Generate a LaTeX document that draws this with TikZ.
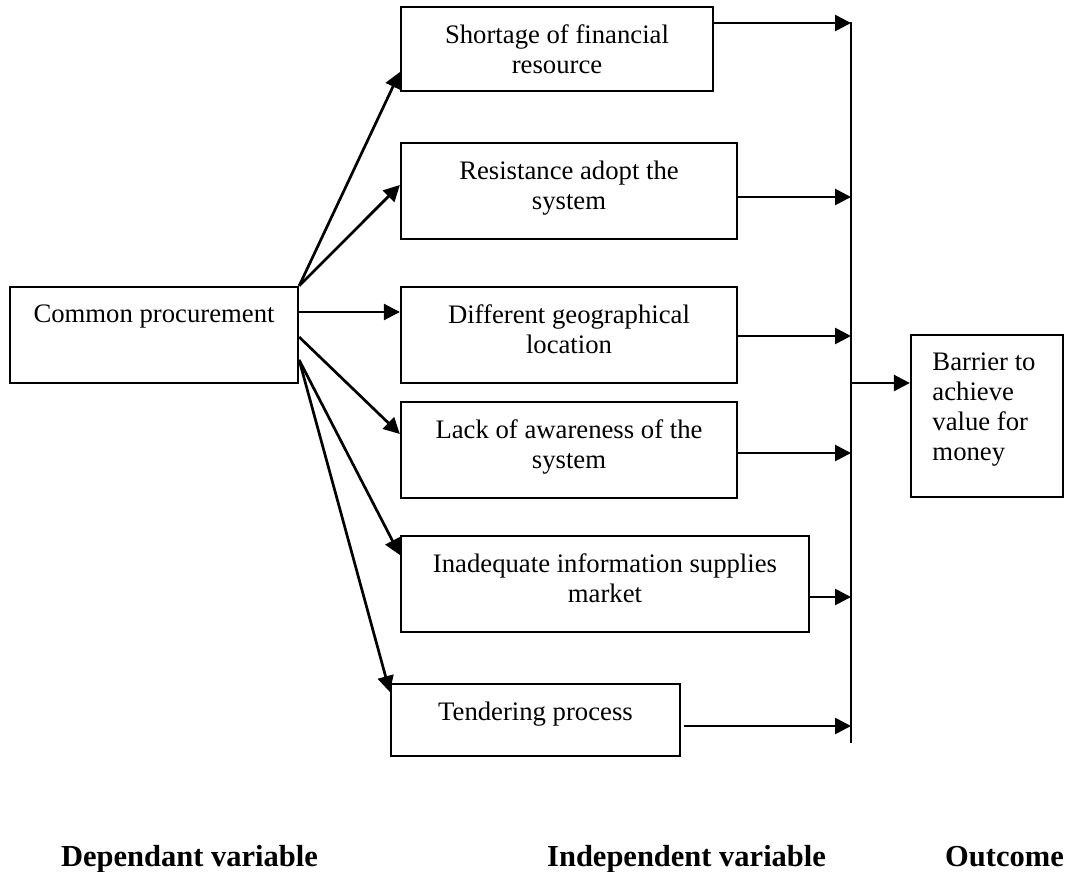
\documentclass[tikz,border=0pt]{standalone}
\usepackage{fontspec}
\setmainfont{Liberation Serif}
\usetikzlibrary{arrows.meta,calc}
\begin{document}
\begin{tikzpicture}[x=1pt,y=-1pt,
  box/.style={draw,line width=2.3pt,inner sep=0pt,align=center,
    font=\fontsize{26.7}{30}\selectfont},
  conn/.style={line width=2.7pt,-{Triangle[length=16pt,width=16pt]}},
  bus/.style={line width=2.6pt},
  heading/.style={font=\fontsize{30.5}{34}\selectfont\bfseries,inner sep=0pt}]
\useasboundingbox (0,0) rectangle (1074,872);

% boxes
\node[box,minimum width=288pt,minimum height=96pt,text depth=42pt] (cp) at (154,335) {Common procurement};
\node[box,minimum width=312pt,minimum height=84pt] (s1) at (557,49) {Shortage of financial\\resource};
\node[box,minimum width=336pt,minimum height=96pt,text depth=12pt] (s2) at (569,191) {Resistance adopt the\\system};
\node[box,minimum width=336pt,minimum height=96pt,text depth=12pt] (s3) at (569,335) {Different geographical\\location};
\node[box,minimum width=336pt,minimum height=96pt,text depth=12pt] (s4) at (569,450) {Lack of awareness of the\\system};
\node[box,minimum width=408pt,minimum height=96pt,text depth=12pt] (s5) at (605,584) {Inadequate information supplies\\market};
\node[box,minimum width=289pt,minimum height=72pt,text depth=18pt] (s6) at (535.5,720) {Tendering process};
\node[box,align=left,minimum width=152pt,minimum height=162pt,text depth=18pt] (outtext) at (987,416) {Barrier to\hspace*{6pt}\\achieve\\value for\\money};

% bus line
\coordinate (bt) at (851,22);
\coordinate (bb) at (851,743);
\draw[bus] (bt) -- (bb);

% arrows from common procurement
\draw[conn] (cp.north east) -- (s1.west |- 0,72);
\draw[conn] (cp.north east) -- (s2.west |- 0,185);
\draw[conn] (cp.east |- 0,312) -- (s3.west |- 0,312);
\draw[conn] (cp.east |- 0,337) -- (s4.west |- 0,434);
\draw[conn] (cp.east |- 0,360) -- (s5.west |- 0,555);
\draw[conn] (cp.east |- 0,360) -- (s6.west |- 0,692);

% arrows into the bus
\draw[conn] (s1.east |- 0,23) -- (bt |- 0,23);
\draw[conn] (s2.east |- 0,197) -- (bt |- 0,197);
\draw[conn] (s3.east |- 0,336) -- (bt |- 0,336);
\draw[conn] (s4.east |- 0,453) -- (bt |- 0,453);
\draw[conn] (s5.east |- 0,597) -- (bt |- 0,597);
\draw[conn,shorten <=3pt] (s6.east |- 0,726) -- (bt |- 0,726);

% bus to outcome
\draw[conn] (bt |- 0,383) -- (outtext.west |- 0,383);

% headings
\node[heading,anchor=base east] (h1) at (318,866) {Dependant variable};
\node[heading,anchor=base west] (h2) at (547,866) {Independent variable};
\node[heading,anchor=base west] (h3) at (945,866) {Outcome};
\end{tikzpicture}
\end{document}
